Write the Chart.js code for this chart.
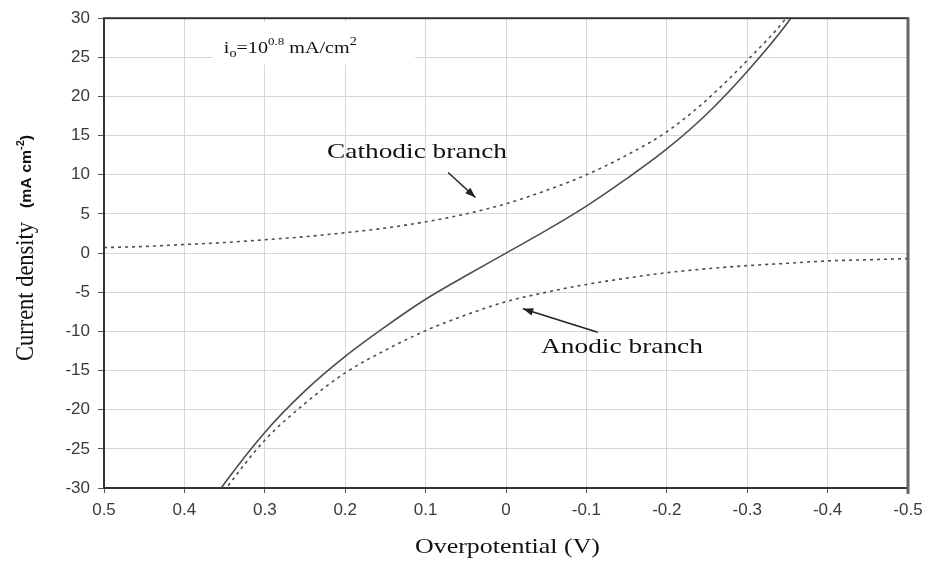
<!DOCTYPE html>
<html>
<head>
<meta charset="utf-8">
<script src="https://cdn.jsdelivr.net/npm/chart.js@4/dist/chart.umd.min.js"></script>
<style>
body{margin:0;background:#fff;}
#wrap{width:930px;height:563px;}
</style>
</head>
<body>
<div id="wrap"><canvas id="bvChart" width="930" height="563"></canvas></div>
<script>

// values
const cathEta = [0.5,0.45,0.4,0.35,0.3,0.25,0.2,0.15,0.1,0.05,0,-0.05,-0.1,-0.15,-0.2,-0.25,-0.3,-0.35,-0.36];
const cathodic = [0.7,0.85,1.1,1.35,1.7,2.1,2.6,3.2,4.0,5.0,6.3,8.0,10.0,12.5,15.5,19.6,24.6,30.2,31.7];

const anodEta = [-0.5,-0.45,-0.4,-0.35,-0.3,-0.25,-0.2,-0.15,-0.1,-0.05,0,0.05,0.1,0.15,0.2,0.25,0.3,0.35,0.36];
const anodic = [-0.7,-0.85,-1.0,-1.3,-1.6,-2.0,-2.5,-3.2,-4.0,-5.0,-6.2,-7.9,-9.9,-12.4,-15.3,-19.2,-23.9,-30.3,-31.7];

const netEta = [0.37,0.35,0.3,0.25,0.2,0.15,0.1,0.05,0,-0.05,-0.1,-0.15,-0.2,-0.25,-0.3,-0.35,-0.37];
const netCurrent = [-32.4,-29.4,-22.9,-17.6,-13.2,-9.4,-5.9,-2.9,0,2.9,6.0,9.5,13.3,17.8,23.2,29.4,32.4];

const xTicks = [0.5,0.4,0.3,0.2,0.1,0,-0.1,-0.2,-0.3,-0.4,-0.5];
const yTicks = [-30,-25,-20,-15,-10,-5,0,5,10,15,20,25,30];

function pts(xs,ys){
return xs.map((x,i)=>({x:x,y:ys[i]}));
}

// text squeezed/stretched to a width, like the scanned figure
function drawFit(ctx,parts,x,y,width){
let total=0;
parts.forEach(p=>{ctx.font=p.font;total+=ctx.measureText(p.t).width;});
const s=width/total;
ctx.save();
ctx.translate(x,y);
ctx.scale(s,1);
let cx=0;
parts.forEach(p=>{
ctx.font=p.font;
ctx.fillText(p.t,cx,p.dy||0);
cx+=ctx.measureText(p.t).width;
});
ctx.restore();
}

function arrow(ctx,x1,y1,x2,y2){
ctx.save();
ctx.strokeStyle="#222";
ctx.fillStyle="#222";
ctx.lineWidth=1.5;
ctx.beginPath();
ctx.moveTo(x1,y1);
ctx.lineTo(x2,y2);
ctx.stroke();
const a=Math.atan2(y2-y1,x2-x1);
ctx.beginPath();
ctx.moveTo(x2,y2);
ctx.lineTo(x2-11*Math.cos(a-0.35),y2-11*Math.sin(a-0.35));
ctx.lineTo(x2-11*Math.cos(a+0.35),y2-11*Math.sin(a+0.35));
ctx.closePath();
ctx.fill();
ctx.restore();
}

const serif='"Liberation Serif","Times New Roman",serif';
const sans='Arial,"Liberation Sans",sans-serif';

const extras={
id:"extras",
beforeDraw(chart){
const ctx=chart.ctx;
ctx.save();
ctx.fillStyle="#fff";
ctx.fillRect(0,0,chart.width,chart.height);
ctx.restore();
},
afterDraw(chart){
const ctx=chart.ctx;
const xs=chart.scales.x, ys=chart.scales.y;
const a=chart.chartArea;

// frame
ctx.save();
ctx.strokeStyle="#333";
ctx.lineWidth=2;
ctx.strokeRect(a.left,a.top,a.right-a.left,a.bottom-a.top);
ctx.strokeStyle="#666";
ctx.lineWidth=3;
ctx.beginPath();
ctx.moveTo(a.right,a.top);
ctx.lineTo(a.right,a.bottom+6);
ctx.stroke();
ctx.restore();

// i0 box
const bx1=xs.getPixelForValue(0.365), bx2=xs.getPixelForValue(0.113);
const by1=ys.getPixelForValue(29.5), by2=ys.getPixelForValue(24.1);
ctx.save();
ctx.fillStyle="#fff";
ctx.fillRect(bx1,by1,bx2-bx1,by2-by1);
ctx.fillStyle="#111";
ctx.textBaseline="alphabetic";
drawFit(ctx,[
{t:"i",font:"17px "+serif},
{t:"o",font:"12px "+serif,dy:4},
{t:"=10",font:"17px "+serif},
{t:"0.8",font:"11px "+serif,dy:-8},
{t:" mA/cm",font:"17px "+serif},
{t:"2",font:"12px "+serif,dy:-8}
],xs.getPixelForValue(0.351),ys.getPixelForValue(25.5),133);

// branch labels
drawFit(ctx,[{t:"Cathodic branch",font:"22px "+serif}],xs.getPixelForValue(0.2226),ys.getPixelForValue(12.2),180);
drawFit(ctx,[{t:"Anodic branch",font:"22px "+serif}],xs.getPixelForValue(-0.0435),ys.getPixelForValue(-12.7),162);

arrow(ctx,xs.getPixelForValue(0.072),ys.getPixelForValue(10.3),xs.getPixelForValue(0.038),ys.getPixelForValue(7.1));
arrow(ctx,xs.getPixelForValue(-0.114),ys.getPixelForValue(-10.1),xs.getPixelForValue(-0.021),ys.getPixelForValue(-7.1));

// axis titles
drawFit(ctx,[{t:"Overpotential (V)",font:"22px "+serif}],415,553,185);

ctx.translate(33,361);
ctx.rotate(-Math.PI/2);
ctx.scale(1,1.15);
drawFit(ctx,[{t:"Current density",font:"21px "+serif}],0,0,139);
drawFit(ctx,[
{t:"(mA cm",font:"bold 13px "+sans},
{t:"-2",font:"bold 9px "+sans,dy:-6},
{t:")",font:"bold 13px "+sans}
],153,-2,73);
ctx.restore();
}
};

const lineStyle={
borderColor:"#4d4d4d",
borderWidth:1.6,
pointRadius:0,
showLine:true,
fill:false,
cubicInterpolationMode:"monotone"
};

new Chart(document.getElementById("bvChart"),{
type:"scatter",
data:{
datasets:[
Object.assign({label:"Cathodic",data:pts(cathEta,cathodic),borderDash:[3,4]},lineStyle),
Object.assign({label:"Anodic",data:pts(anodEta,anodic),borderDash:[3,4]},lineStyle),
Object.assign({label:"Net",data:pts(netEta,netCurrent)},lineStyle)
]
},
options:{
responsive:false,
animation:false,
layout:{padding:{top:11,right:22,left:0,bottom:0}},
plugins:{legend:{display:false},tooltip:{enabled:false}},
scales:{
x:{
type:"linear",
reverse:true,
min:-0.5,
max:0.5,
afterBuildTicks(s){s.ticks=xTicks.map(v=>({value:v}));},
afterFit(s){s.height=75;},
grid:{color:"#d6d6d6",lineWidth:1,tickLength:5,tickColor:"#555"},
border:{display:false},
ticks:{
font:{family:sans,size:17},
color:"#3a3a3a",
padding:7,
maxRotation:0,
callback:v=>String(Math.round(v*10)/10)
}
},
y:{
type:"linear",
min:-30,
max:30,
afterBuildTicks(s){s.ticks=yTicks.map(v=>({value:v}));},
afterFit(s){s.width=104;},
grid:{color:"#d6d6d6",lineWidth:1,tickLength:6,tickColor:"#555"},
border:{display:false},
ticks:{
font:{family:sans,size:17},
color:"#3a3a3a",
padding:8
}
}
}
},
plugins:[extras]
});

</script>
</body>
</html>
